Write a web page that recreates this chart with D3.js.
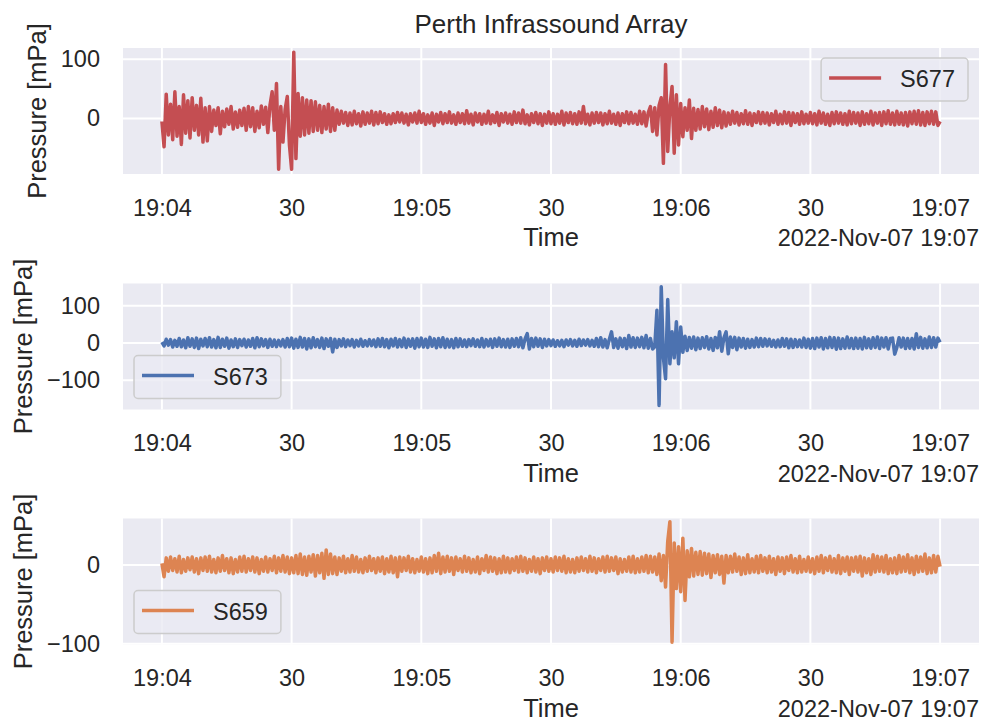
<!DOCTYPE html>
<html>
<head>
<meta charset="utf-8">
<script src="https://cdn.jsdelivr.net/npm/d3@7/dist/d3.min.js"></script>
<style>
  body { margin: 0; background: #ffffff; }
  text { font-family: "Liberation Sans", Arial, sans-serif; fill: #262626; }
</style>
</head>
<body>
<svg id="chart"></svg>
<script>
// samples, 0.5 s apart, from 2022-11-07 19:04:00
const startTime = Date.UTC(2022, 10, 7, 19, 4, 0);
const sampleStep = 500; // ms

const stations = ["S677", "S673", "S659"];

const s677 = [
  -5, -48, 41, -28, 24, -36, 45, -30, 20, -44, 40, -25, 30, -33, 35, -20, 22, -28, 34, -40,
  18, -38, 20, -22, 14, -12, 18, -26, 12, -14, 16, -10, 20, -18, 11, -15, 14, -12, 17, -20,
  20, -14, 18, -22, 12, -16, 21, -10, 19, -24, 22, 45, -20, 59, -86, 20, -40, 15, 37, -45,
  -86, 112, -68, 42, -30, 35, -28, 31, -25, 30, -22, 28, -20, 22, -24, 20, -18, 24, -22, 18,
  -20, 14, -10, 12, -8, 10, -12, 9, -11, 12, -9, 8, -13, 11, -10, 9, -8, 12, -11, 10,
  -9, 11, -7, 8, -10, 6, -9, 8, -7, 10, -6, 9, -8, 7, -11, 8, -6, 9, -8, 12,
  -7, 8, -10, 6, -8, 9, -12, 7, -6, 10, -9, 8, -7, 11, -8, 6, -10, 9, -7, 8,
  -9, 13, -8, 7, -11, 9, -6, 8, -10, 7, -8, 12, -9, 6, -7, 10, -12, 8, -6, 9,
  -8, 7, -10, 11, -7, 9, -8, 14, -9, 6, -11, 8, -7, 10, -9, 8, -12, 7, -8, 11,
  -9, 8, -10, 7, -8, 12, -11, 9, -7, 10, -9, 8, -10, 11, -8, 20, -9, 7, -11, 9,
  -8, 10, -7, 9, -11, 8, -9, 12, -8, 7, -10, 9, -12, 8, -7, 11, -9, 10, -8, 7,
  -10, 12, -9, 11, -13, 10, 20, -22, 18, -28, 22, 35, -76, 91, -56, 20, 54, -59, 40, -45,
  25, -31, 18, -20, 31, -34, 17, -20, 15, -18, 20, -14, 16, -19, 12, -15, 18, -12, 14, -16,
  11, -13, 9, -10, 12, -8, 10, -11, 8, -9, 13, -10, 9, -12, 8, -7, 11, -9, 10, -8,
  9, -11, 8, -7, 12, -10, 7, -9, 11, -8, 10, -12, 9, -7, 8, -10, 11, -9, 7, -8,
  10, -9, 8, -11, 12, -8, 9, -10, 7, -12, 10, -9, 11, -8, 9, -10, 8, -11, 12, -9,
  10, -8, 9, -12, 11, -10, 8, -9, 12, -11, 9, -8, 10, -12, 11, -9, 13, -10, 9, -11,
  12, -10, 9, -11, 10, -13, 11, -9, 12, -10, 13, -11, 10, -12, 11, -9, 12, -10, 11, -12,
  -5
];

const s673 = [
  2, -8, 10, -6, 9, -11, 7, -9, 12, -10, 8, -13, 14, -9, 11, -12, 13, -15, 10, -8,
  12, -10, 14, -11, 9, -13, 15, -12, 10, -9, 13, -14, 8, -10, 11, -12, 9, -7, 10, -11,
  8, -9, 12, -13, 14, -10, 11, -8, 9, -12, 10, -9, 8, -10, 7, -8, 9, -11, 12, -10,
  13, -14, 10, -12, 15, -11, 12, -16, 11, -13, 14, -10, 9, -12, 13, -15, 11, -9, 12, -24,
  10, -12, 9, -8, 11, -10, 8, -7, 9, -11, 7, -8, 10, -9, 6, -8, 9, -7, 8, -10,
  11, -9, 12, -10, 9, -13, 10, -8, 12, -11, 9, -10, 13, -12, 10, -9, 11, -14, 12, -10,
  13, -11, 10, -12, 15, -9, 11, -13, 12, -10, 14, -12, 10, -11, 9, -13, 12, -10, 11, -9,
  8, -10, 9, -7, 11, -9, 8, -10, 12, -11, 9, -8, 10, -12, 11, -9, 13, -10, 9, -11,
  10, -12, 11, -9, 12, -10, 14, -13, 11, 25, -16, 12, -10, 13, -9, 11, -12, 10, -8, 9,
  -7, 8, -9, 6, -8, 7, -10, 8, -6, 9, -8, 7, -9, 10, -7, 8, -6, 9, -8, 7,
  -9, 12, -10, 14, -11, 9, -13, 10, 30, -12, 11, -14, 13, -10, 12, -15, 20, -11, 14, -12,
  13, -10, 15, -13, 20, -14, 12, -16, -10, 88, -168, 151, -40, -96, 117, -56, 30, -40, 57, -56,
  43, -25, 18, -20, 15, -14, 16, -18, 13, -15, 14, -12, 17, -16, 12, -20, 15, -13, 30, -22,
  14, 30, -29, 16, -12, 15, -18, 13, -11, 12, -14, 10, -12, 9, -11, 13, -10, 12, -9, 11,
  -8, 10, -9, 7, -11, 8, -10, 12, -9, 11, -13, 10, -12, 9, -10, 8, -11, 13, -12, 10,
  -14, 12, -15, 13, -11, 14, -16, 12, -13, 15, -12, 14, -17, 13, -15, 11, -14, 16, -13, 12,
  -15, 13, -14, 12, -16, 15, -13, 11, -14, 14, -12, 16, -15, 13, -11, 14, -16, 12, 13, -30,
  -12, 14, -11, 13, -15, 12, -14, 12, -16, 25, -12, 15, -14, 11, -13, 16, -12, 14, -11, 13,
  2
];

const s659 = [
  2, -15, 9, -8, 10, -7, 8, -9, 11, -10, 7, -8, 9, -6, 10, -9, 8, -11, 9, -7,
  10, -8, 11, -9, 7, -10, 9, -8, 12, -7, 8, -10, 9, -11, 7, -9, 10, -8, 11, -9,
  8, -7, 10, -9, 9, -11, 7, -8, 10, -9, 8, -7, 11, -10, 9, -8, 12, -9, 10, -11,
  9, -10, 12, -11, 14, -12, 10, -13, 11, -9, 13, -14, 12, -10, 15, -17, 19, -12, 14, -11,
  10, -12, 9, -8, 11, -10, 8, -9, 12, -8, 10, -9, 7, -10, 9, -8, 11, -7, 8, -10,
  9, -8, 10, -11, 8, -9, 11, -10, 9, -15, 10, -8, 9, -7, 11, -9, 8, -10, 7, -8,
  10, -9, 8, -11, 9, -10, 12, -8, 15, -11, 10, -9, 11, -8, 9, -12, 10, -7, 8, -9,
  11, -8, 9, -10, 7, -9, 10, -11, 8, -7, 12, -9, 10, -8, 9, -11, 8, -10, 11, -9,
  9, -10, 8, -7, 10, -9, 11, -8, 9, -10, 7, -8, 10, -9, 8, -11, 9, -7, 10, -8,
  8, -9, 10, -7, 9, -8, 11, -10, 8, -9, 7, -10, 9, -8, 10, -7, 8, -9, 11, -8,
  9, -10, 8, -7, 10, -9, 11, -8, 9, -7, 10, -11, 8, -9, 7, -8, 10, -9, 11, -10,
  8, -9, 10, -8, 12, -10, 11, -9, 10, -12, 14, -20, 12, -28, 30, 55, -98, 28, -30, 23,
  -34, 34, -45, 18, -15, 21, -14, 16, -12, 17, -13, 15, -11, 14, -16, 12, -10, 13, -12, 11,
  -23, 12, -10, 11, -9, 14, -8, 10, -12, 9, -11, 13, -10, 8, -9, 11, -10, 12, -8, 9,
  -10, 11, -9, 8, -12, 10, -8, 9, -11, 10, -7, 12, -9, 8, -10, 11, -9, 7, -8, 10,
  -9, 8, -11, 10, -8, 12, -10, 9, -7, 11, -9, 8, -10, 12, -11, 9, -8, 10, -12, 9,
  -8, 10, -9, 11, -14, 9, -10, 8, -12, 13, -9, 11, -8, 10, -9, 12, -11, 8, -10, 9,
  -11, 12, -9, 10, -8, 13, -10, 9, -12, 11, -9, 10, -8, 14, -11, 9, -10, 12, -9, 11,
  -2
];

const seriesValues = [s677, s673, s659];
const seriesColors = ["#C44E52", "#4C72B0", "#DD8452"];
const yDomains = [[-94, 119], [-179, 160], [-101, 59]];
const yTickValues = [[0, 100], [-100, 0, 100], [-100, 0]];
const legendCorners = ["upper right", "lower left", "lower left"];

const titleText = "Perth Infrassound Array";
const xLabelText = "Time";
const yLabelText = "Pressure [mPa]";
const offsetText = "2022-Nov-07 19:07";

// layout
const WIDTH = 981, HEIGHT = 721;
const PLOT_LEFT = 123, PLOT_RIGHT = 979;
const PANEL_TOPS = [48, 283.5, 518.5];
const PANEL_H = 126;
const BG = "#EAEAF2";
const TICK_FONT = 23.5, LABEL_FONT = 25.5;

const svg = d3.select("#chart").attr("width", WIDTH).attr("height", HEIGHT);

const endTime = startTime + (s677.length - 1) * sampleStep;
const pad = (endTime - startTime) * 0.05;

const x = d3.scaleUtc()
  .domain([new Date(startTime - pad), new Date(endTime + pad)])
  .range([PLOT_LEFT, PLOT_RIGHT]);

const xTicks = d3.utcSecond.every(30).range(new Date(startTime), new Date(endTime + 1));
const fmtMinute = d3.utcFormat("%H:%M"), fmtSecond = d3.utcFormat("%S");
const xTickFormat = d => d.getUTCSeconds() === 0 ? fmtMinute(d) : fmtSecond(d);
const yTickFormat = d => d < 0 ? "\u2212" + Math.abs(d) : String(d);

function drawPanel(i) {
  const top = PANEL_TOPS[i], bottom = top + PANEL_H;
  const y = d3.scaleLinear().domain(yDomains[i]).range([bottom, top]);
  const g = svg.append("g").attr("class", "panel");

  g.append("rect")
    .attr("x", PLOT_LEFT).attr("y", top)
    .attr("width", PLOT_RIGHT - PLOT_LEFT).attr("height", PANEL_H)
    .attr("fill", BG);

  // grid
  g.append("g").selectAll("line").data(xTicks).join("line")
    .attr("x1", d => x(d)).attr("x2", d => x(d))
    .attr("y1", top).attr("y2", bottom)
    .attr("stroke", "#ffffff").attr("stroke-width", 2);
  g.append("g").selectAll("line").data(yTickValues[i]).join("line")
    .attr("x1", PLOT_LEFT).attr("x2", PLOT_RIGHT)
    .attr("y1", d => y(d)).attr("y2", d => y(d))
    .attr("stroke", "#ffffff").attr("stroke-width", 2);

  // waveform
  const line = d3.line()
    .x((d, k) => x(new Date(startTime + k * sampleStep)))
    .y(d => y(d));
  g.append("path")
    .datum(seriesValues[i])
    .attr("d", line)
    .attr("fill", "none")
    .attr("stroke", seriesColors[i])
    .attr("stroke-width", 3.5)
    .attr("stroke-linejoin", "round");

  // axes
  const xAxis = g.append("g")
    .attr("transform", "translate(0," + bottom + ")")
    .call(d3.axisBottom(x).tickValues(xTicks).tickFormat(xTickFormat).tickSize(0).tickPadding(25));
  const yAxis = g.append("g")
    .attr("transform", "translate(" + PLOT_LEFT + ",0)")
    .call(d3.axisLeft(y).tickValues(yTickValues[i]).tickFormat(yTickFormat).tickSize(0).tickPadding(23));
  [xAxis, yAxis].forEach(a => {
    a.select(".domain").remove();
    a.attr("font-size", null).attr("font-family", null);
    a.selectAll("text").attr("font-size", TICK_FONT).attr("fill", "#262626");
  });

  g.append("text")
    .attr("x", (PLOT_LEFT + PLOT_RIGHT) / 2).attr("y", bottom + 72)
    .attr("text-anchor", "middle").attr("font-size", LABEL_FONT)
    .text(xLabelText);
  g.append("text")
    .attr("x", PLOT_RIGHT).attr("y", bottom + 72)
    .attr("text-anchor", "end").attr("font-size", TICK_FONT)
    .text(offsetText);

  // y label sits left of the widest tick label
  const tickLeft = yAxis.node().getBBox().x + PLOT_LEFT;
  g.append("text")
    .attr("transform", "translate(" + (tickLeft - 15) + "," + (top + PANEL_H / 2) + ") rotate(-90)")
    .attr("text-anchor", "middle").attr("font-size", LABEL_FONT)
    .text(yLabelText);

  // legend
  const leg = g.append("g");
  const box = leg.append("rect").attr("rx", 4)
    .attr("fill", BG).attr("fill-opacity", 0.8)
    .attr("stroke", "#cccccc").attr("stroke-width", 1.5);
  const label = leg.append("text").attr("x", 79).attr("y", 29)
    .attr("font-size", TICK_FONT).text(stations[i]);
  leg.append("line")
    .attr("x1", 8).attr("x2", 60).attr("y1", 20).attr("y2", 20)
    .attr("stroke", seriesColors[i]).attr("stroke-width", 3.5);
  const legW = 79 + label.node().getComputedTextLength() + 13, legH = 43;
  box.attr("width", legW).attr("height", legH);
  const lx = legendCorners[i] === "upper right" ? PLOT_RIGHT - 11 - legW : PLOT_LEFT + 11;
  const ly = legendCorners[i] === "upper right" ? top + 10 : bottom - 11 - legH;
  leg.attr("transform", "translate(" + lx + "," + ly + ")");
}

stations.forEach((s, i) => drawPanel(i));

svg.append("text")
  .attr("x", (PLOT_LEFT + PLOT_RIGHT) / 2).attr("y", 33)
  .attr("text-anchor", "middle").attr("font-size", 26)
  .text(titleText);
</script>
</body>
</html>
